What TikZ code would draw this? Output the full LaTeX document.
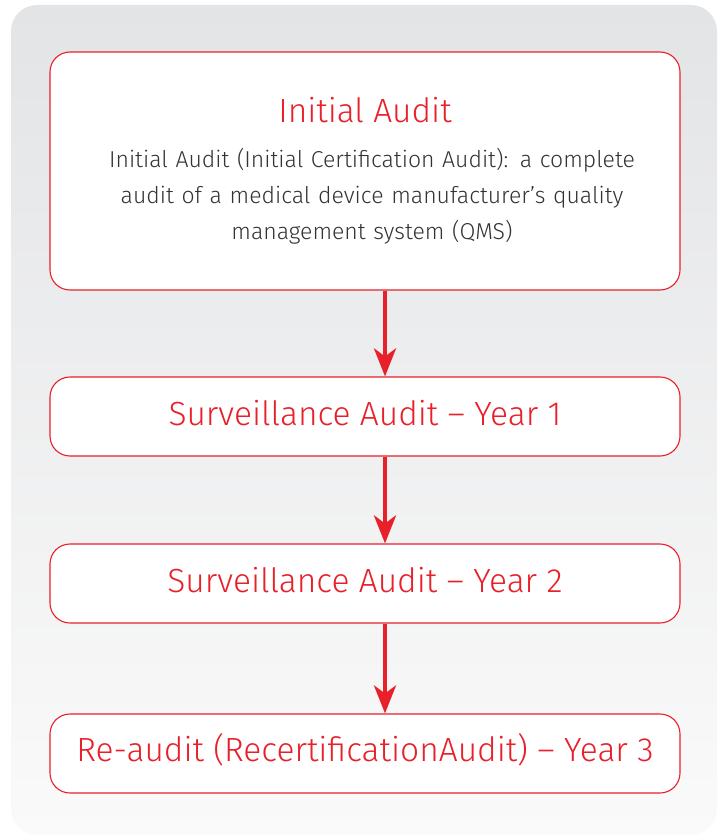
\documentclass[tikz,border=0pt]{standalone}
\usepackage{fontspec}
\setmainfont{Fira Sans}[UprightFont=* Light]
\usetikzlibrary{arrows.meta}
\definecolor{auditred}{HTML}{E8202A}
\definecolor{bodygrey}{HTML}{333333}
\definecolor{panelTop}{HTML}{E3E4E6}
\definecolor{panelBot}{HTML}{FAFAFA}
\tikzset{
  stagebox/.style={draw=auditred, line width=1.1pt, fill=white, rounded corners=20pt,
    minimum width=630pt, align=center, inner sep=0pt},
  flowarrow/.style={draw=auditred, line width=4.2pt,
    -{Stealth[length=28pt, width=22pt, inset=8pt]}},
  titletext/.style={text=auditred, font=\fontsize{33.5}{38}\selectfont},
  bodytext/.style={text=bodygrey, font=\fontsize{23}{36}\selectfont, align=center}
}
\begin{document}
\begin{tikzpicture}[x=1pt,y=-1pt]
\useasboundingbox (0,0) rectangle (721,837);
% panel
\shade[top color=panelTop, bottom color=panelBot, rounded corners=26pt]
  (11,5) rectangle (717,835);
% boxes
\node[stagebox, minimum height=238pt] (init) at (365,171) {};
\node[titletext] (inittitle) at (365,110) {Initial Audit};
\node[bodytext, text width=620pt] (initbody) at (372,196)
  {Initial Audit (Initial Certification Audit): a complete\\
   audit of a medical device manufacturer’s quality\\
   management system (QMS)};
\node[stagebox, minimum height=79pt] (s1) at (365,416.5) {};
\node[stagebox, minimum height=79pt] (s2) at (365,583.5) {};
\node[stagebox, minimum height=79pt] (re) at (365,753.5) {};
\node[titletext] (s1t) at (365,413) {Surveillance Audit – Year 1};
\node[titletext] (s2t) at (365,580) {Surveillance Audit – Year 2};
\node[titletext] (ret) at (365,750) {Re-audit (RecertificationAudit) – Year 3};
% arrows
\draw[flowarrow] (init.south -| 385,0) -- (s1.north -| 385,0);
\draw[flowarrow] (s1.south -| 385,0) -- (s2.north -| 385,0);
\draw[flowarrow] (s2.south -| 385,0) -- (re.north -| 385,0);
\end{tikzpicture}
\end{document}
